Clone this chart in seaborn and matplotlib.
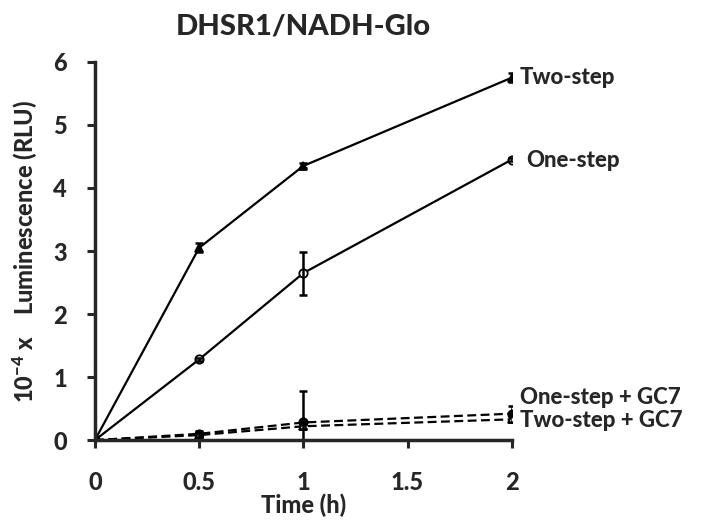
import numpy as np
import pandas as pd
import seaborn as sns
import matplotlib.pyplot as plt

# ------------------------------------------------------------
# Data
# ------------------------------------------------------------
time_h = [0, 0.5, 1, 2]

two_step = [0, 3.05, 4.35, 5.75]
two_step_err = [0, 0.07, 0.04, 0.07]

one_step = [0, 1.28, 2.65, 4.45]
one_step_err = [0, 0.02, 0.34, 0.02]

one_step_gc7 = [0, 0.10, 0.28, 0.42]
one_step_gc7_err = [0, 0.05, 0.50, 0.12]

two_step_gc7 = [0, 0.08, 0.22, 0.33]
two_step_gc7_err = [0, 0.03, 0.04, 0.05]

series_names = ["Two-step", "One-step", "One-step + GC7", "Two-step + GC7"]
label_y = [5.75, 4.43, 0.68, 0.31]
label_x = [2.04, 2.07, 2.04, 2.04]

# ------------------------------------------------------------
# Plot
# ------------------------------------------------------------
sns.set_style("ticks")
plt.rcParams["font.family"] = ["Lato", "DejaVu Sans"]
plt.rcParams["mathtext.fontset"] = "custom"
plt.rcParams["mathtext.rm"] = "Lato:black"
plt.rcParams["mathtext.default"] = "rm"
W = "black"

fig = plt.figure(figsize=(7.03, 5.29), dpi=100)
ax = fig.add_axes([0.135, 0.168, 0.593, 0.715])

values = [two_step, one_step, one_step_gc7, two_step_gc7]
errors = [two_step_err, one_step_err, one_step_gc7_err, two_step_gc7_err]
styles = [
    dict(marker="^", mfc="black", ls="-", ms=6),
    dict(marker="o", mfc="white", ls="-", ms=6),
    dict(marker="o", mfc="black", ls=(0, (4, 2)), ms=6),
    dict(marker="^", mfc="white", ls=(0, (4, 2)), ms=6),
]

for name, vals, errs, st in zip(series_names, values, errors, styles):
    df = pd.DataFrame({"time": time_h, "value": vals})
    sns.lineplot(data=df, x="time", y="value", ax=ax, color="black",
                 linestyle=st["ls"], linewidth=1.6, marker=st["marker"],
                 markersize=st["ms"], markerfacecolor=st["mfc"],
                 markeredgecolor="black", markeredgewidth=1.3)
    ax.errorbar(time_h, vals, yerr=errs, fmt="none", ecolor="black",
                elinewidth=1.8, capsize=3, capthick=1.8)

for name, x, y in zip(series_names, label_x, label_y):
    ax.text(x, y, name, fontsize=16, fontweight=W,
            va="center", ha="left", clip_on=False)

ax.set_xlim(0, 2)
ax.set_ylim(0, 6)
ax.set_xticks([0, 0.5, 1, 1.5, 2])
ax.set_xticklabels(["0", "0.5", "1", "1.5", "2"])
ax.set_yticks(range(7))
ax.tick_params(axis="both", labelsize=17, width=2.2, length=6, direction="out")
ax.tick_params(axis="x", pad=16)
ax.tick_params(axis="y", pad=14)
for lab in ax.get_xticklabels() + ax.get_yticklabels():
    lab.set_fontweight(W)
for sp in ["left", "bottom"]:
    ax.spines[sp].set_linewidth(2.5)
sns.despine(ax=ax)

ax.set_xlabel("Time (h)", fontsize=17, fontweight=W, labelpad=0)
ax.set_ylabel("10$^{-4}$ x    Luminescence (RLU)", fontsize=17, fontweight=W,
              labelpad=10)
ax.set_title("DHSR1/NADH-Glo", fontsize=21, fontweight=W, pad=20)

fig.savefig("out.png", dpi=100)
